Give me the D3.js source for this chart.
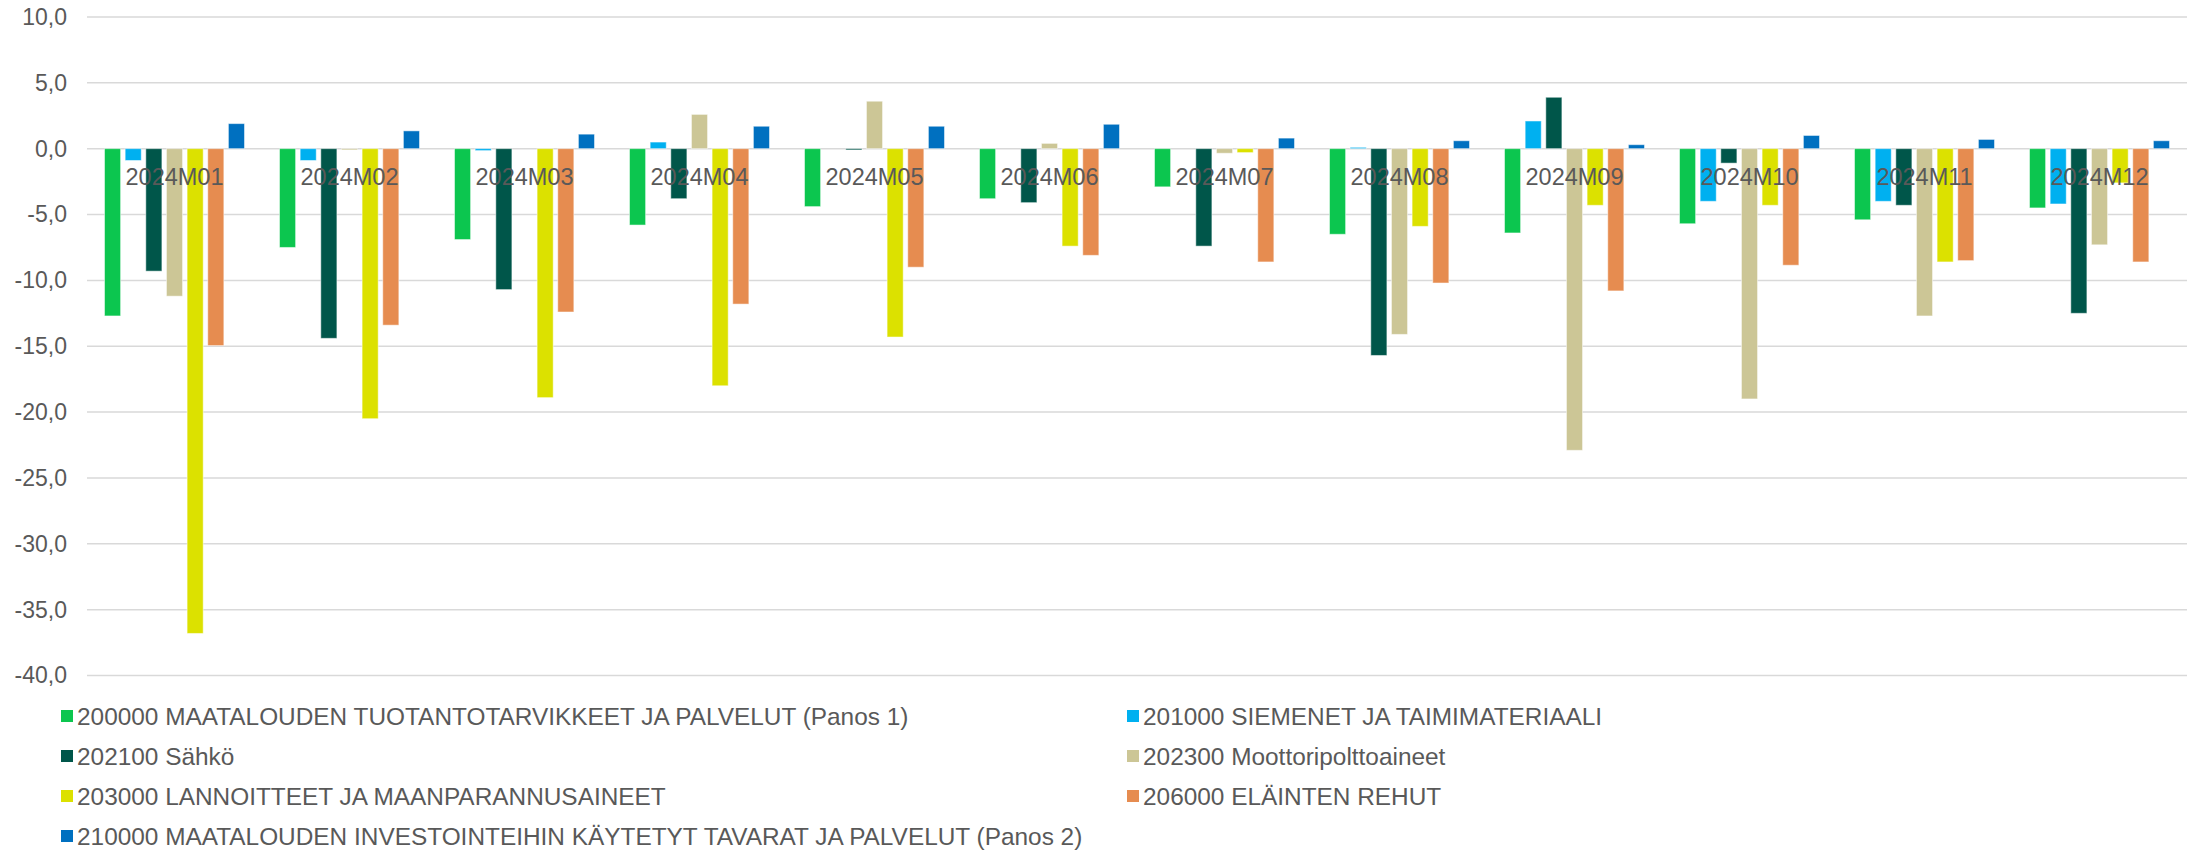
<!DOCTYPE html>
<html>
<head>
<meta charset="utf-8">
<script src="https://cdn.jsdelivr.net/npm/d3@7"></script>
<style>
  body { margin:0; background:#ffffff; }
  svg text { font-family: "Liberation Sans", Arial, sans-serif; fill:#595959; }
</style>
</head>
<body>
<svg id="grafico" width="2193" height="850"></svg>
<script>

var kuukaudet = ["2024M01","2024M02","2024M03","2024M04","2024M05","2024M06",
                 "2024M07","2024M08","2024M09","2024M10","2024M11","2024M12"];

var sarjat = [
  "200000 MAATALOUDEN TUOTANTOTARVIKKEET JA PALVELUT (Panos 1)",
  "201000 SIEMENET JA TAIMIMATERIAALI",
  "202100 Sähkö",
  "202300 Moottoripolttoaineet",
  "203000 LANNOITTEET JA MAANPARANNUSAINEET",
  "206000 ELÄINTEN REHUT",
  "210000 MAATALOUDEN INVESTOINTEIHIN KÄYTETYT TAVARAT JA PALVELUT (Panos 2)"
];

var varit = ["#0cc64f","#00b0f0","#00564a","#ccc696","#dce100","#e68c50","#0070c0"];

var panos1      = [-12.7, -7.5, -6.9, -5.8, -4.4, -3.8, -2.9, -6.5, -6.4, -5.7, -5.4, -4.5];
var siemenet    = [-0.9, -0.9, -0.15, 0.5, 0.0, 0.0, 0.0, 0.1, 2.1, -4.0, -4.0, -4.2];
var sahko       = [-9.3, -14.4, -10.7, -3.8, -0.1, -4.1, -7.4, -15.7, 3.9, -1.1, -4.3, -12.5];
var polttoaine  = [-11.2, -0.1, 0.0, 2.6, 3.6, 0.4, -0.35, -14.1, -22.9, -19.0, -12.7, -7.3];
var lannoitteet = [-36.8, -20.5, -18.9, -18.0, -14.3, -7.4, -0.3, -5.9, -4.3, -4.3, -8.6, -2.6];
var rehut       = [-14.95, -13.4, -12.4, -11.8, -9.0, -8.1, -8.6, -10.2, -10.8, -8.85, -8.5, -8.6];
var panos2      = [1.9, 1.35, 1.1, 1.7, 1.7, 1.85, 0.8, 0.6, 0.3, 1.0, 0.7, 0.6];

var yTikit = [10, 5, 0, -5, -10, -15, -20, -25, -30, -35, -40];

var arvot = [panos1, siemenet, sahko, polttoaine, lannoitteet, rehut, panos2];

var svg = d3.select("#grafico");

var x0 = d3.scaleBand()
      .domain(kuukaudet)
      .range([87, 2187])
      .paddingInner(0.2)
      .paddingOuter(0.1);

var x1 = d3.scaleBand()
      .domain(d3.range(sarjat.length))
      .range([0, x0.bandwidth()])
      .paddingInner(0.22);

var y = d3.scaleLinear()
      .domain([-40, 10])
      .range([675.6, 16.9]);

var muoto = function(d){ return d3.format(".1f")(d).replace(".", ",").replace("−", "-"); };

// ruudukko
svg.append("g")
      .selectAll("line")
      .data(yTikit)
      .enter().append("line")
      .attr("x1", 87)
      .attr("x2", 2187)
      .attr("y1", function(d){ return y(d); })
      .attr("y2", function(d){ return y(d); })
      .style("stroke", "#d9d9d9")
      .style("stroke-width", 1.5);

// y-akseli
var yAkseli = svg.append("g")
      .attr("transform", "translate(87,0)")
      .call(d3.axisLeft(y).tickValues(yTikit).tickFormat(muoto).tickSize(0).tickPadding(20));

yAkseli.select(".domain").remove();
yAkseli.selectAll("text")
      .style("font-size", "23px")
      .style("fill", "#595959")
      .style("font-family", "'Liberation Sans', Arial, sans-serif");

// pylväät
var ryhmat = svg.append("g")
      .selectAll("g")
      .data(kuukaudet)
      .enter().append("g")
      .attr("transform", function(d){ return "translate(" + x0(d) + ",0)"; });

ryhmat.selectAll("rect")
      .data(function(d, i){ return arvot.map(function(s, j){ return {sarja:j, arvo:s[i]}; }); })
      .enter().append("rect")
      .attr("x", function(d){ return x1(d.sarja); })
      .attr("width", x1.bandwidth())
      .attr("y", function(d){ return y(Math.max(0, d.arvo)); })
      .attr("height", function(d){ return Math.abs(y(d.arvo) - y(0)); })
      .style("fill", function(d){ return varit[d.sarja]; })
      .style("stroke", "#ffffff")
      .style("stroke-opacity", 0.5)
      .style("stroke-width", 1);

// kategoriat akselin kohdalle
var xAkseli = svg.append("g")
      .attr("transform", "translate(0," + y(0) + ")")
      .call(d3.axisBottom(x0).tickSize(0).tickPadding(20));

xAkseli.select(".domain").remove();
xAkseli.selectAll("text")
      .style("font-size", "23.5px")
      .style("fill", "#595959")
      .style("font-family", "'Liberation Sans', Arial, sans-serif");

// selite
var seliteX = [61, 1127];
var seliteY = d3.scaleLinear().domain([0, 3]).range([716, 836]);

var selite = svg.append("g")
      .selectAll("g")
      .data(sarjat)
      .enter().append("g")
      .attr("transform", function(d, i){
            return "translate(" + seliteX[i % 2] + "," + seliteY(Math.floor(i / 2)) + ")";
      });

selite.append("rect")
      .attr("x", 0)
      .attr("y", -6)
      .attr("width", 12)
      .attr("height", 12)
      .style("fill", function(d, i){ return varit[i]; });

selite.append("text")
      .attr("x", 16)
      .attr("y", 0)
      .attr("dy", "0.35em")
      .style("font-size", "24.4px")
      .text(function(d){ return d; });

</script>
</body>
</html>
